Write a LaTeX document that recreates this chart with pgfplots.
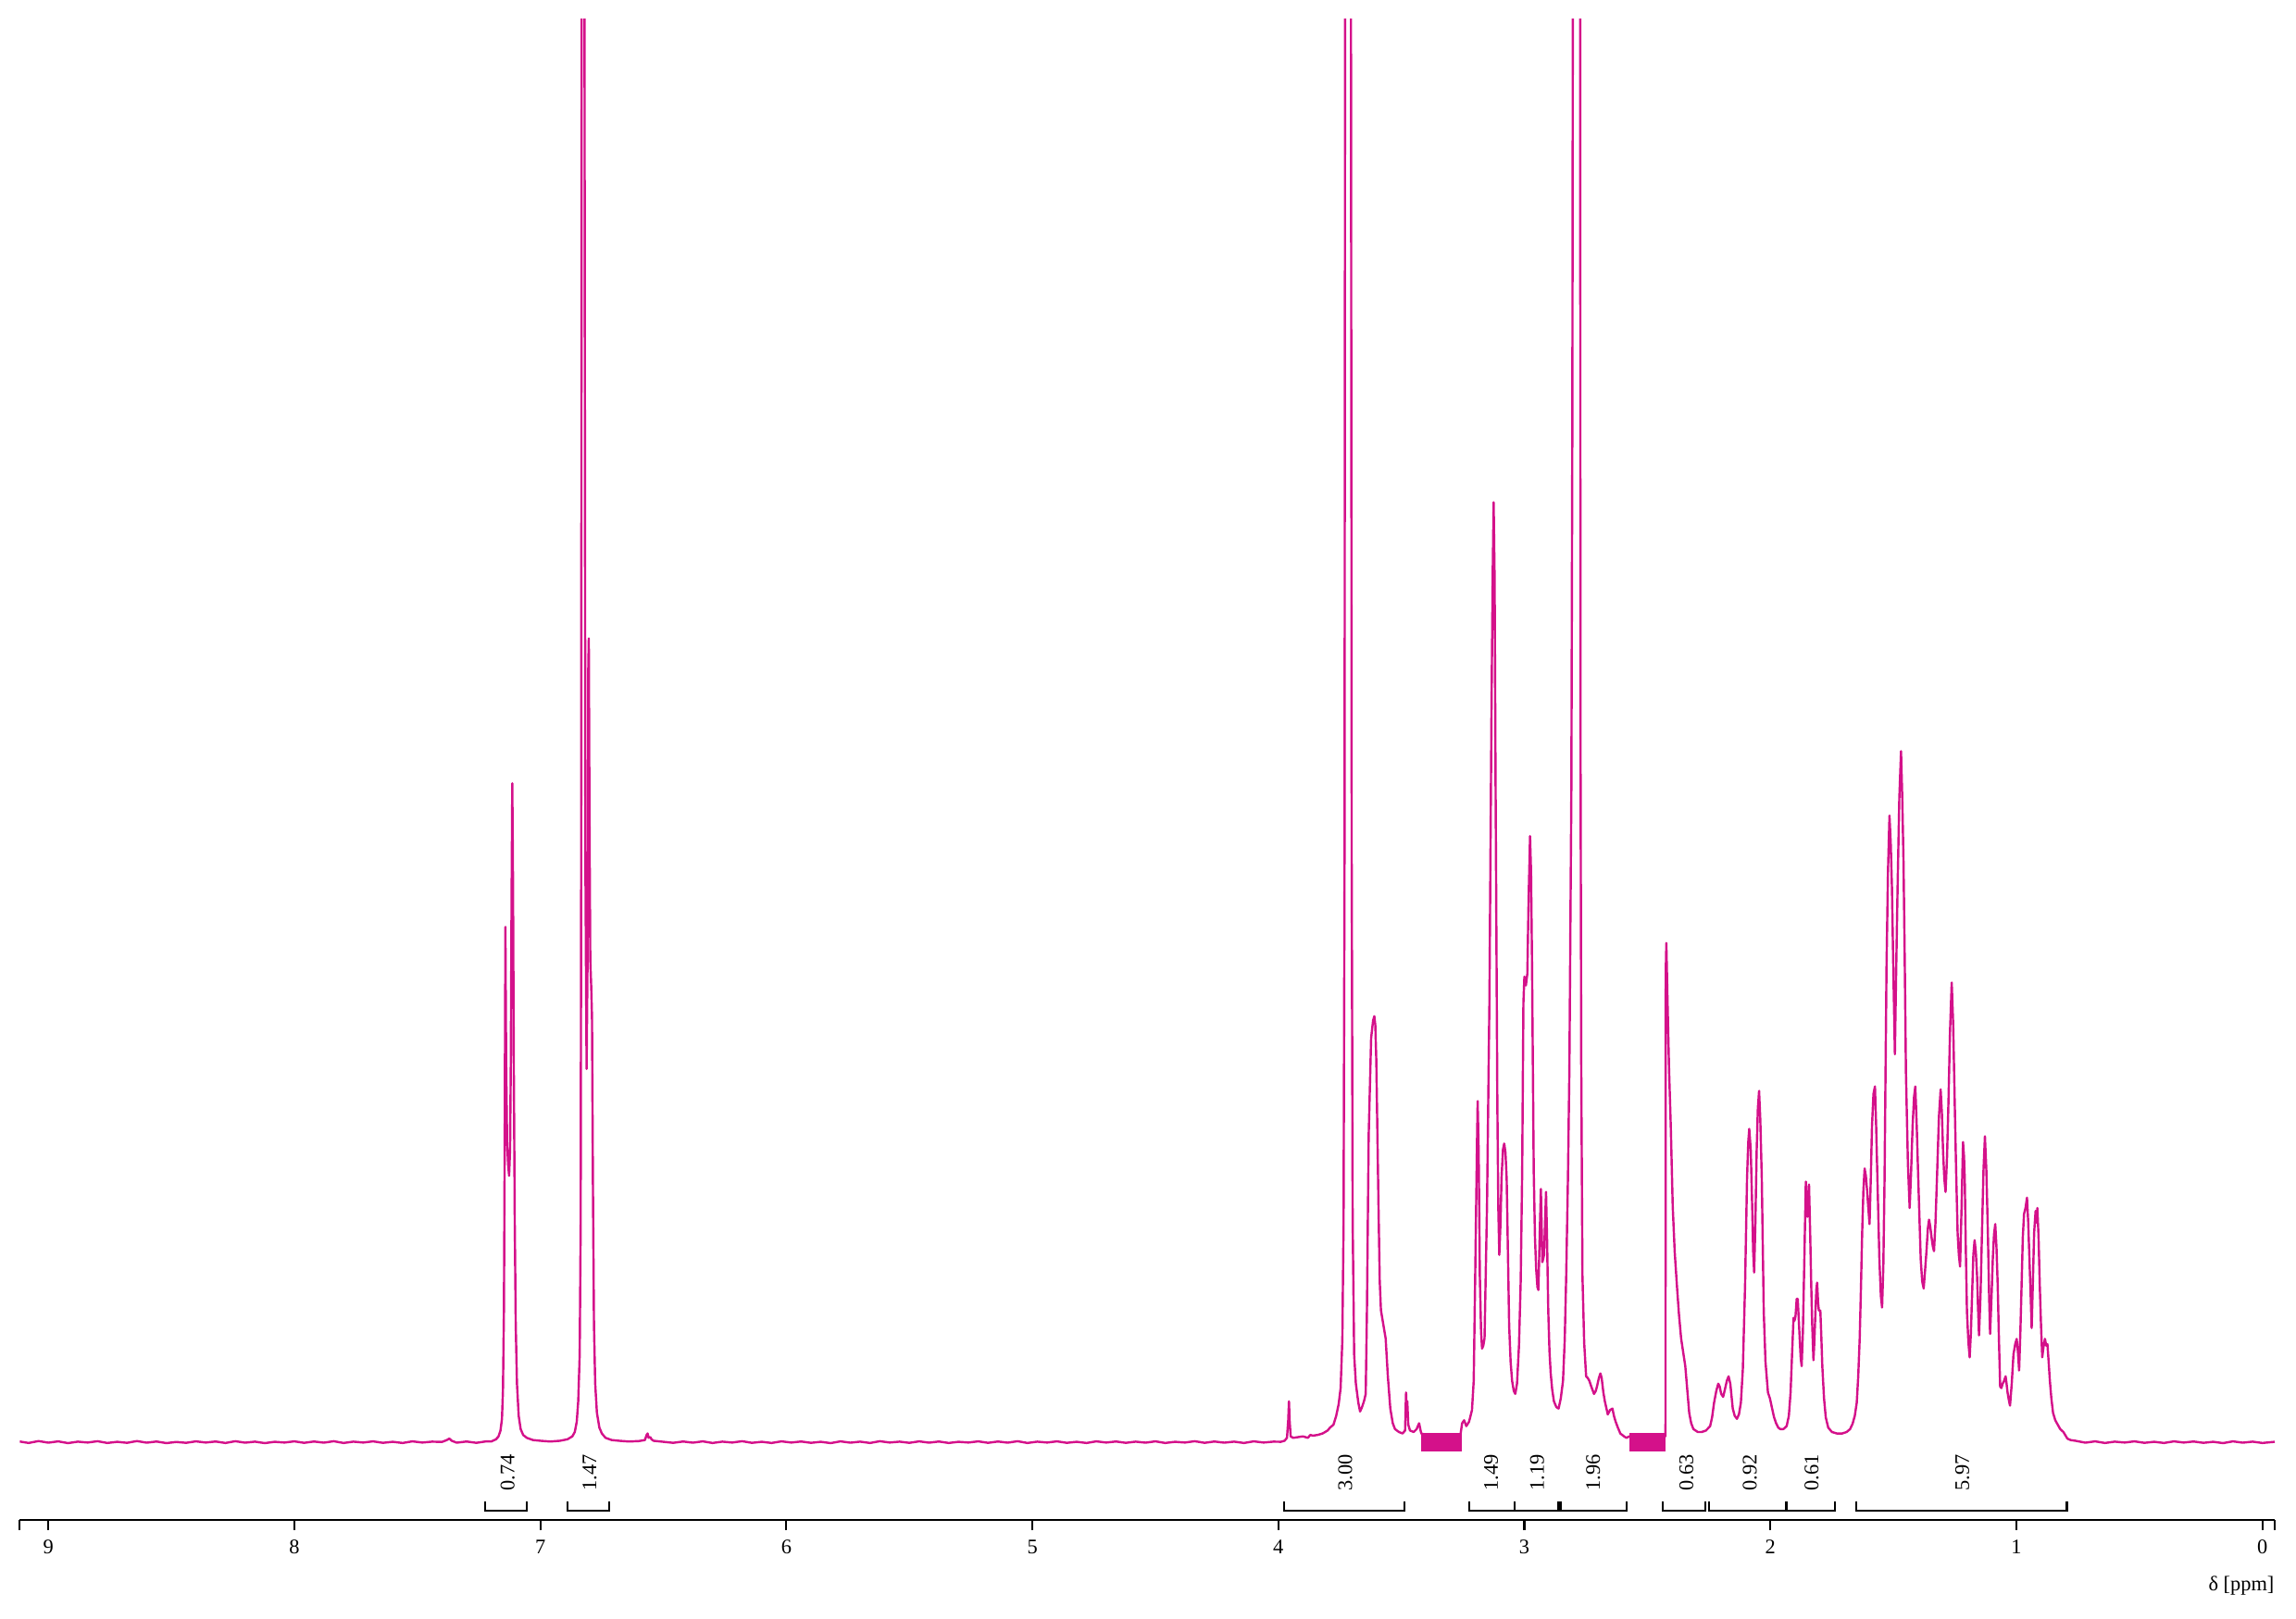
\documentclass[border=0pt]{standalone}
\usepackage{fontspec}
\setmainfont{Liberation Serif}
\usepackage{pgfplots}
\pgfplotsset{compat=1.18}
\definecolor{spec}{RGB}{212,17,138}
\newcommand{\lab}{\fontsize{7.4}{8}\selectfont}

\begin{document}
\begin{tikzpicture}
\path[use as bounding box] (0,0) rectangle (28.8cm,20.3cm);
\begin{axis}[
    at={(0.2485cm,1.231cm)}, anchor=south west,
    scale only axis, width=28.285cm, height=18.825cm,
    xmin=-0.05, xmax=9.116, ymin=-53.1, ymax=971.8,
    x dir=reverse,
    axis x line=bottom, axis y line=none,
    x axis line style={-, line width=0.8pt},
    xtick={0,...,9}, tick align=outside, major tick length=0.13cm,
    extra x ticks={-0.05,9.116}, extra x tick labels={},
    every tick/.style={black, line width=0.7pt},
    ticklabel style={font=\lab},
    /pgf/number format/assume math mode=true,
    clip mode=individual,
]
% spectrum, intensity in arbitrary units above the baseline
\addplot[spec, line width=0.8pt, line join=round] coordinates {
(9.116,0.5) (9.08,-0.5) (9.04,0.8) (9.00,-0.3) (8.96,0.6) (8.92,-0.6) (8.88,0.4) (8.84,-0.2)
(8.80,0.7) (8.76,-0.5) (8.72,0.3) (8.68,-0.4) (8.64,0.8) (8.60,-0.3) (8.56,0.5) (8.52,-0.6)
(8.48,0.2) (8.44,-0.4) (8.40,0.6) (8.36,-0.2) (8.32,0.5) (8.28,-0.5) (8.24,0.7) (8.20,-0.3)
(8.16,0.4) (8.12,-0.6) (8.08,0.3) (8.04,-0.2) (8.00,0.6) (7.96,-0.4) (7.92,0.5) (7.88,-0.3)
(7.84,0.7) (7.80,-0.5) (7.76,0.4) (7.72,-0.2) (7.68,0.6) (7.64,-0.4) (7.60,0.3) (7.56,-0.5)
(7.52,0.6) (7.48,-0.2) (7.44,0.4) (7.40,0.2) (7.38,1.5) (7.37,2.5) (7.36,1) (7.34,-0.3)
(7.30,0.5) (7.26,-0.4) (7.22,0.6)
(7.200,0.5) (7.180,2) (7.170,4) (7.162,8) (7.156,16) (7.152,35) (7.148,90) (7.145,200)
(7.142,352) (7.139,260) (7.135,205) (7.131,190) (7.127,182) (7.123,200) (7.120,260) (7.117,370)
(7.114,450) (7.111,380) (7.108,260) (7.104,150) (7.100,80) (7.095,40) (7.088,18) (7.080,9)
(7.070,5) (7.055,3) (7.030,1.5) (7.000,1) (6.960,0.5) (6.920,1) (6.890,2)
(6.870,4) (6.860,7) (6.852,14) (6.846,28) (6.840,60) (6.836,150) (6.834,400) (6.832,1000)
(6.829,2000) (6.823,2000) (6.820,900) (6.817,400) (6.812,255) (6.808,330) (6.805,530)
(6.803,549) (6.800,420) (6.797,330) (6.793,310) (6.790,290) (6.786,170) (6.782,80) (6.777,40)
(6.770,20) (6.760,10) (6.750,6) (6.735,3) (6.710,1.5) (6.680,1) (6.64,0.5) (6.60,0.8)
(6.575,1.5) (6.568,5) (6.564,6) (6.560,3) (6.553,3.5) (6.548,2) (6.54,1) (6.50,0.3)
(6.46,-0.4) (6.42,0.5) (6.38,-0.3) (6.34,0.6) (6.30,-0.5) (6.26,0.4) (6.22,-0.2) (6.18,0.7)
(6.14,-0.4) (6.10,0.3) (6.06,-0.5) (6.02,0.6) (5.98,-0.2) (5.94,0.5) (5.90,-0.4) (5.86,0.3)
(5.82,-0.6) (5.78,0.6) (5.74,-0.3) (5.70,0.4) (5.66,-0.5) (5.62,0.7) (5.58,-0.2) (5.54,0.4)
(5.50,-0.4) (5.46,0.6) (5.42,-0.3) (5.38,0.5) (5.34,-0.5) (5.30,0.3) (5.26,-0.2) (5.22,0.6)
(5.18,-0.4) (5.14,0.5) (5.10,-0.3) (5.06,0.7) (5.02,-0.5) (4.98,0.4) (4.94,-0.2) (4.90,0.6)
(4.86,-0.4) (4.82,0.3) (4.78,-0.5) (4.74,0.6) (4.70,-0.2) (4.66,0.5) (4.62,-0.4) (4.58,0.4)
(4.54,-0.3) (4.50,0.6) (4.46,-0.5) (4.42,0.3) (4.38,-0.2) (4.34,0.7) (4.30,-0.4) (4.26,0.5)
(4.22,-0.3) (4.18,0.4) (4.14,-0.5) (4.10,0.6) (4.06,-0.2) (4.02,0.4)
(3.990,0.3) (3.975,1) (3.965,3) (3.960,15) (3.957,28) (3.954,14) (3.950,4) (3.940,3)
(3.920,3.5) (3.900,4) (3.880,3) (3.870,5) (3.860,4.5) (3.840,5) (3.820,6) (3.800,8)
(3.790,10) (3.776,12) (3.765,18) (3.755,26) (3.747,37) (3.740,70) (3.735,150) (3.731,400)
(3.728,1200) (3.722,3000) (3.716,3500) (3.710,3000) (3.706,1200) (3.702,400) (3.698,150) (3.692,60)
(3.685,40) (3.675,27) (3.668,21) (3.660,24) (3.652,28) (3.645,33) (3.640,90) (3.633,209)
(3.623,276) (3.615,288) (3.610,291) (3.606,285) (3.602,261) (3.593,161) (3.588,110) (3.583,90)
(3.575,82) (3.564,71) (3.555,45) (3.545,23) (3.535,13) (3.526,9) (3.510,7) (3.495,6)
(3.485,8) (3.481,34) (3.478,20) (3.476,28) (3.472,12) (3.465,8) (3.450,7) (3.438,9)
(3.428,13) (3.422,8) (3.419,6) (3.38,4) (3.34,4) (3.30,4) (3.26,5)
(3.253,13) (3.245,15) (3.236,11) (3.225,14) (3.213,22) (3.206,42) (3.200,113) (3.193,200)
(3.190,233) (3.186,200) (3.181,113) (3.176,75) (3.172,64) (3.167,66) (3.162,71) (3.152,161)
(3.142,304) (3.134,494) (3.129,590) (3.125,642) (3.121,590) (3.117,447) (3.110,233) (3.106,160)
(3.102,128) (3.097,150) (3.093,180) (3.087,200) (3.082,204) (3.077,198) (3.072,180) (3.067,130)
(3.062,80) (3.056,55) (3.050,42) (3.043,35) (3.037,33) (3.030,40) (3.022,66) (3.015,110)
(3.009,185) (3.004,300) (3.000,318) (2.994,312) (2.988,320) (2.983,370) (2.977,414) (2.973,390)
(2.969,328) (2.962,185) (2.957,140) (2.952,118) (2.947,106) (2.943,104) (2.938,140) (2.933,173)
(2.930,150) (2.927,123) (2.924,125) (2.920,128) (2.916,150) (2.912,171) (2.908,140) (2.903,90)
(2.898,62) (2.893,47) (2.887,36) (2.880,28) (2.870,24) (2.861,23) (2.852,30) (2.843,42)
(2.836,70) (2.830,114) (2.823,180) (2.817,256) (2.809,447) (2.805,700) (2.801,1300) (2.797,2500)
(2.790,2800) (2.783,2500) (2.777,2800) (2.774,1300) (2.772,500) (2.769,260) (2.764,114) (2.757,68)
(2.749,45) (2.743,44) (2.736,42) (2.728,38) (2.717,33) (2.710,35) (2.705,38) (2.697,44)
(2.691,47) (2.686,44) (2.679,34) (2.673,28) (2.661,19) (2.652,22) (2.642,23) (2.636,18)
(2.629,14) (2.620,10) (2.610,6) (2.595,4) (2.585,3) (2.574,4) (2.50,4) (2.4265,4)
(2.4255,320) (2.423,341) (2.418,300) (2.412,255) (2.405,216) (2.397,161) (2.389,130) (2.380,107)
(2.372,88) (2.363,71) (2.355,62) (2.346,52) (2.338,36) (2.330,20) (2.322,13) (2.313,9)
(2.295,7) (2.279,7) (2.262,8) (2.245,11) (2.237,17) (2.229,27) (2.220,35) (2.212,40)
(2.206,38) (2.200,33) (2.192,31) (2.185,36) (2.177,42) (2.170,45) (2.163,40) (2.153,23)
(2.145,18) (2.136,16) (2.128,19) (2.120,27) (2.112,50) (2.103,107) (2.095,180) (2.090,205)
(2.086,214) (2.080,200) (2.074,161) (2.070,130) (2.066,116) (2.061,150) (2.056,198) (2.051,228)
(2.046,240) (2.041,220) (2.035,180) (2.027,89) (2.020,55) (2.010,34) (2.002,30) (1.993,23)
(1.985,17) (1.977,13) (1.968,10) (1.960,9) (1.947,9) (1.934,11) (1.925,18) (1.918,34)
(1.912,60) (1.906,85) (1.902,83) (1.898,86) (1.893,98) (1.889,98) (1.885,85) (1.881,71)
(1.877,58) (1.873,52) (1.868,75) (1.862,125) (1.856,178) (1.852,165) (1.849,154) (1.846,165)
(1.843,176) (1.838,140) (1.834,107) (1.830,80) (1.825,56) (1.821,70) (1.817,89) (1.813,105)
(1.810,109) (1.806,95) (1.803,90) (1.797,90) (1.793,72) (1.789,52) (1.782,30) (1.775,17)
(1.765,10) (1.750,7) (1.730,6) (1.708,6) (1.690,7) (1.676,9) (1.666,12.6) (1.657,18)
(1.649,27) (1.643,45) (1.637,71) (1.632,105) (1.627,143) (1.622,172) (1.617,187) (1.612,182)
(1.607,172) (1.602,160) (1.597,149) (1.592,180) (1.587,216) (1.581,238) (1.575,243) (1.570,215)
(1.565,180) (1.557,125) (1.551,100) (1.546,92) (1.541,120) (1.536,180) (1.528,325) (1.522,390)
(1.516,428) (1.511,410) (1.506,379) (1.500,320) (1.494,265) (1.489,320) (1.483,379) (1.476,440)
(1.469,472) (1.464,440) (1.459,397) (1.454,330) (1.449,252) (1.441,190) (1.434,160) (1.428,185)
(1.422,216) (1.416,236) (1.411,243) (1.405,215) (1.399,180) (1.389,125) (1.383,110) (1.377,105)
(1.371,118) (1.365,132) (1.360,146) (1.355,152) (1.350,147) (1.345,140) (1.340,134) (1.335,130.5)
(1.329,150) (1.323,180) (1.315,222) (1.308,241) (1.303,225) (1.298,198) (1.293,180) (1.288,171)
(1.282,195) (1.276,234) (1.270,280) (1.263,314) (1.257,285) (1.251,234) (1.245,185) (1.239,143)
(1.234,128) (1.229,120) (1.223,160) (1.217,205) (1.213,195) (1.210,180) (1.206,135) (1.201,89)
(1.195,68) (1.190,58) (1.185,75) (1.179,107) (1.175,128) (1.170,138) (1.165,130) (1.160,114)
(1.156,92) (1.152,73) (1.146,100) (1.140,143) (1.134,185) (1.128,209) (1.122,185) (1.116,143)
(1.111,100) (1.107,74) (1.101,100) (1.096,125) (1.091,142) (1.086,149) (1.081,133) (1.076,107)
(1.071,70) (1.066,38) (1.061,37) (1.056,40) (1.050,42) (1.044,45) (1.040,40) (1.036,34)
(1.031,29) (1.026,25) (1.019,40) (1.012,60) (1.005,67) (0.999,70.6) (0.994,62) (0.989,49)
(0.984,75) (0.979,107) (0.974,140) (0.969,156) (0.963,160) (0.957,167) (0.952,150) (0.947,125)
(0.942,100) (0.938,78) (0.933,110) (0.928,143) (0.922,158) (0.918,150) (0.915,160) (0.910,140)
(0.905,107) (0.900,80) (0.895,58) (0.890,65) (0.884,70.6) (0.879,66) (0.874,67) (0.869,55)
(0.864,42) (0.858,30) (0.851,20) (0.842,15) (0.834,12.6) (0.822,9) (0.809,7) (0.793,2.5)
(0.780,1.5) (0.76,1) (0.72,-0.3) (0.68,0.6) (0.64,-0.5) (0.60,0.4) (0.56,-0.2) (0.52,0.6)
(0.48,-0.4) (0.44,0.3) (0.40,-0.5) (0.36,0.6) (0.32,-0.2) (0.28,0.5) (0.24,-0.4) (0.20,0.3)
(0.16,-0.6) (0.12,0.6) (0.08,-0.3) (0.04,0.4) (0.00,-0.5) (-0.05,0.3)
};
% excluded regions
\addplot[draw=none, fill=spec] coordinates {(3.419,-6.3) (3.253,-6.3) (3.253,6.3) (3.419,6.3)} --cycle;
\addplot[draw=none, fill=spec] coordinates {(2.573,-6.3) (2.425,-6.3) (2.425,6.3) (2.573,6.3)} --cycle;
% integral brackets
\addplot[black, line width=0.7pt] coordinates {(7.226,-40.5) (7.226,-46.8) (7.054,-46.8) (7.054,-40.5)};
\addplot[black, line width=0.7pt] coordinates {(6.891,-40.5) (6.891,-46.8) (6.719,-46.8) (6.719,-40.5)};
\addplot[black, line width=0.7pt] coordinates {(3.978,-40.5) (3.978,-46.8) (3.488,-46.8) (3.488,-40.5)};
\addplot[black, line width=0.7pt] coordinates {(3.224,-40.5) (3.224,-46.8) (3.039,-46.8) (3.039,-40.5)};
\addplot[black, line width=0.7pt] coordinates {(3.039,-40.5) (3.039,-46.8) (2.861,-46.8) (2.861,-40.5)};
\addplot[black, line width=0.7pt] coordinates {(2.852,-40.5) (2.852,-46.8) (2.586,-46.8) (2.586,-40.5)};
\addplot[black, line width=0.7pt] coordinates {(2.437,-40.5) (2.437,-46.8) (2.264,-46.8) (2.264,-40.5)};
\addplot[black, line width=0.7pt] coordinates {(2.250,-40.5) (2.250,-46.8) (1.935,-46.8) (1.935,-40.5)};
\addplot[black, line width=0.7pt] coordinates {(1.935,-40.5) (1.935,-46.8) (1.738,-46.8) (1.738,-40.5)};
\addplot[black, line width=0.7pt] coordinates {(1.652,-40.5) (1.652,-46.8) (0.795,-46.8) (0.795,-40.5)};
\begin{scope}[every node/.style={rotate=90, font=\lab, inner sep=0pt}]
\node at (axis cs:7.133,-20.9) {0.74};
\node at (axis cs:6.800,-20.9) {1.47};
\node at (axis cs:3.728,-20.9) {3.00};
\node at (axis cs:3.135,-20.9) {1.49};
\node at (axis cs:2.948,-20.9) {1.19};
\node at (axis cs:2.720,-20.9) {1.96};
\node at (axis cs:2.341,-20.9) {0.63};
\node at (axis cs:2.084,-20.9) {0.92};
\node at (axis cs:1.832,-20.9) {0.61};
\node at (axis cs:1.220,-20.9) {5.97};
\end{scope}
\node[anchor=east, font=\lab, inner sep=0pt] at (rel axis cs:1,0) [yshift=-0.824cm] {δ [ppm]};
\end{axis}
\end{tikzpicture}
\end{document}
